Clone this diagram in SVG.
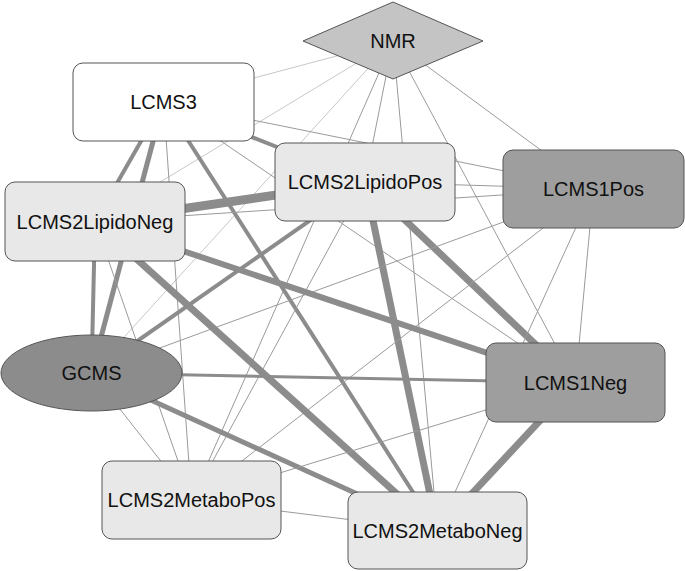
<svg xmlns="http://www.w3.org/2000/svg" width="685" height="571" viewBox="0 0 685 571">
<style>
.e{stroke:#8c8c8c;fill:none}
.t{stroke:#9a9a9a;stroke-width:1}
.l{stroke:#c8c8c8;stroke-width:1}
.n{stroke:#555;stroke-width:1}
text{font-family:"Liberation Sans",Arial,sans-serif;font-size:20px;fill:#111;text-anchor:middle}
</style>
<rect width="685" height="571" fill="#fff"/>
<g id="edges" class="e">
<!-- NMR -->
<line class="l" x1="393" y1="41" x2="163.5" y2="102"/>
<line class="t" x1="393" y1="41" x2="365" y2="182"/>
<line class="t" x1="393" y1="41" x2="593.5" y2="189"/>
<line class="l" x1="393" y1="41" x2="95" y2="221.5"/>
<line class="l" x1="393" y1="41" x2="91.5" y2="373"/>
<line class="t" x1="393" y1="41" x2="575.5" y2="382.5"/>
<line class="t" x1="393" y1="41" x2="191.5" y2="500"/>
<line class="t" x1="393" y1="41" x2="437.5" y2="530.5"/>
<!-- LCMS3 -->
<line stroke-width="4" x1="163.5" y1="102" x2="365" y2="182"/>
<line class="t" x1="163.5" y1="102" x2="593.5" y2="189"/>
<line stroke-width="4" x1="163.5" y1="102" x2="95" y2="221.5"/>
<line stroke-width="5" x1="163.5" y1="102" x2="91.5" y2="373"/>
<line class="t" x1="163.5" y1="102" x2="575.5" y2="382.5"/>
<line class="t" x1="163.5" y1="102" x2="191.5" y2="500"/>
<line stroke-width="4" x1="163.5" y1="102" x2="437.5" y2="530.5"/>
<!-- LCMS2LipidoPos -->
<line class="t" x1="365" y1="182" x2="593.5" y2="189"/>
<line stroke-width="9" x1="365" y1="182" x2="95" y2="221.5"/>
<line stroke-width="4" x1="365" y1="182" x2="91.5" y2="373"/>
<line stroke-width="7" x1="365" y1="182" x2="575.5" y2="382.5"/>
<line class="t" x1="365" y1="182" x2="191.5" y2="500"/>
<line stroke-width="7" x1="365" y1="182" x2="437.5" y2="530.5"/>
<!-- LCMS1Pos -->
<line class="t" x1="593.5" y1="189" x2="95" y2="221.5"/>
<line class="t" x1="593.5" y1="189" x2="91.5" y2="373"/>
<line class="t" x1="593.5" y1="189" x2="575.5" y2="382.5"/>
<line class="t" x1="593.5" y1="189" x2="191.5" y2="500"/>
<line class="t" x1="593.5" y1="189" x2="437.5" y2="530.5"/>
<!-- LCMS2LipidoNeg -->
<line stroke-width="4" x1="95" y1="221.5" x2="91.5" y2="373"/>
<line stroke-width="6" x1="95" y1="221.5" x2="575.5" y2="382.5"/>
<line class="t" x1="95" y1="221.5" x2="191.5" y2="500"/>
<line stroke-width="7" x1="95" y1="221.5" x2="437.5" y2="530.5"/>
<!-- GCMS -->
<line stroke-width="3" x1="91.5" y1="373" x2="575.5" y2="382.5"/>
<line class="t" x1="91.5" y1="373" x2="191.5" y2="500"/>
<line stroke-width="5" x1="91.5" y1="373" x2="437.5" y2="530.5"/>
<!-- LCMS1Neg -->
<line class="t" x1="575.5" y1="382.5" x2="191.5" y2="500"/>
<line stroke-width="7" x1="575.5" y1="382.5" x2="437.5" y2="530.5"/>
<!-- LCMS2MetaboPos -->
<line class="t" x1="191.5" y1="500" x2="437.5" y2="530.5"/>
</g>
<g id="NMR"><polygon class="n" points="303,41 393,2 483,41 393,79" fill="#c4c4c4"/><text x="393" y="48">NMR</text></g>
<g id="LCMS3"><rect class="n" x="73" y="63" width="181" height="78" rx="10" fill="#fff"/><text x="163.5" y="109">LCMS3</text></g>
<g id="LCMS2LipidoPos"><rect class="n" x="275" y="143" width="180" height="78" rx="10" fill="#e8e8e8"/><text x="365" y="189">LCMS2LipidoPos</text></g>
<g id="LCMS1Pos"><rect class="n" x="503" y="150" width="181" height="78" rx="10" fill="#9e9e9e"/><text x="593.5" y="196">LCMS1Pos</text></g>
<g id="LCMS2LipidoNeg"><rect class="n" x="5" y="182" width="180" height="79" rx="10" fill="#e8e8e8"/><text x="95" y="228.5">LCMS2LipidoNeg</text></g>
<g id="GCMS"><ellipse class="n" cx="91.5" cy="373" rx="90.5" ry="38" fill="#8c8c8c"/><text x="91.5" y="380">GCMS</text></g>
<g id="LCMS1Neg"><rect class="n" x="486" y="343" width="179" height="79" rx="10" fill="#9e9e9e"/><text x="575.5" y="389.5">LCMS1Neg</text></g>
<g id="LCMS2MetaboPos"><rect class="n" x="102" y="461" width="179" height="78" rx="10" fill="#e8e8e8"/><text x="191.5" y="507">LCMS2MetaboPos</text></g>
<g id="LCMS2MetaboNeg"><rect class="n" x="348" y="492" width="179" height="77" rx="10" fill="#e8e8e8"/><text x="437.5" y="537.5">LCMS2MetaboNeg</text></g>
</svg>
